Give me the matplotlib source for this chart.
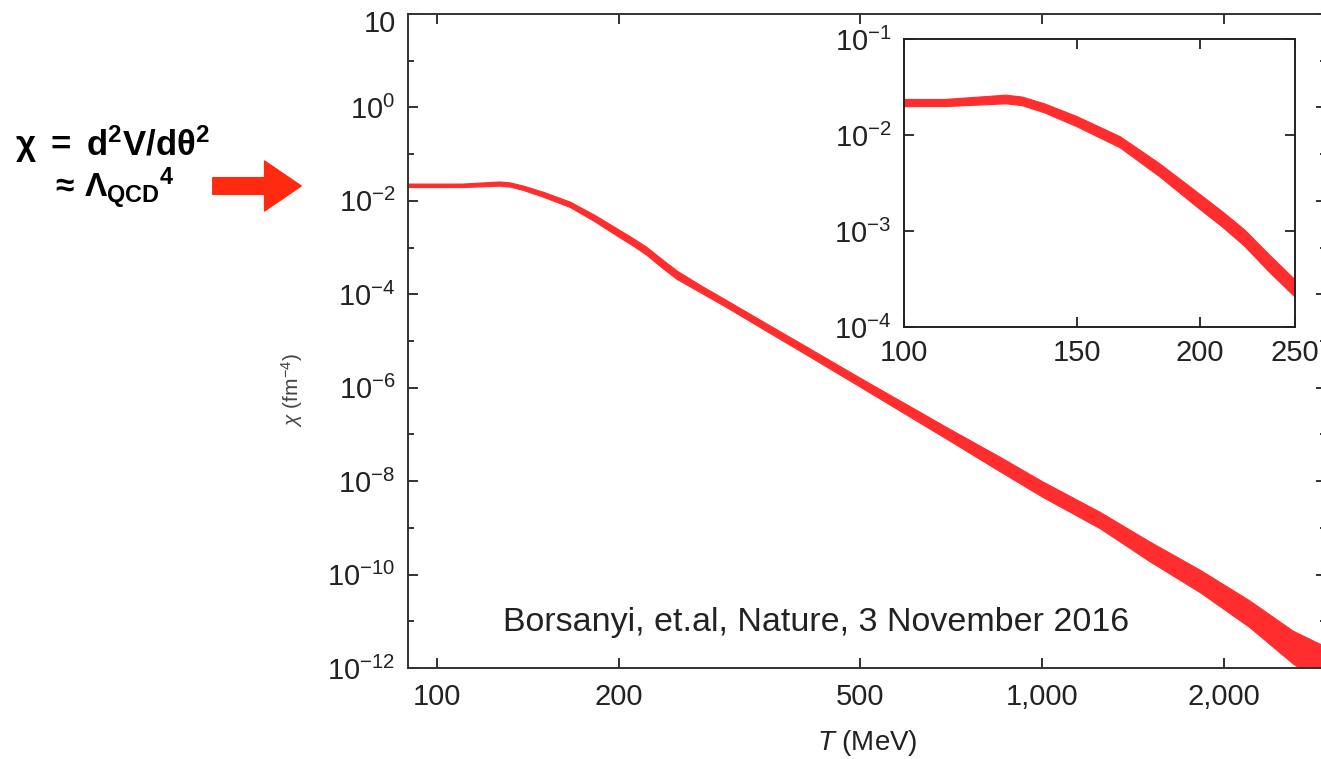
import matplotlib.pyplot as plt
import matplotlib.transforms as mtransforms
import numpy as np
from matplotlib.patches import FancyArrowPatch
from matplotlib.ticker import NullLocator

plt.rcParams['font.family'] = ['Liberation Sans', 'DejaVu Sans']
plt.rcParams['mathtext.fontset'] = 'custom'
plt.rcParams['mathtext.rm'] = 'Liberation Sans'
plt.rcParams['mathtext.it'] = 'Liberation Sans:italic'
plt.rcParams['mathtext.bf'] = 'Liberation Sans:bold'

# topological susceptibility band (log10 of chi in fm^-4)
T_mev = [88, 100, 110, 120, 127, 132, 139, 150, 166, 182, 200, 211, 222, 235, 249,
         272, 300, 351, 400, 500, 700, 852, 1000, 1247, 1500, 1825, 2200, 2596, 2950]
log_chi_hi = [-1.630, -1.630, -1.630, -1.603, -1.585, -1.605, -1.675, -1.808, -2.018,
              -2.297, -2.617, -2.80, -2.985, -3.24, -3.49, -3.797, -4.115, -4.63, -5.055,
              -5.785, -6.865, -7.48, -8.00, -8.66, -9.28, -9.90, -10.55, -11.20, -11.55]
log_chi_lo = [-1.704, -1.704, -1.704, -1.687, -1.675, -1.695, -1.769, -1.914, -2.134,
              -2.433, -2.773, -2.96, -3.155, -3.42, -3.67, -3.951, -4.265, -4.79, -5.225,
              -5.975, -7.115, -7.79, -8.33, -9.01, -9.70, -10.38, -11.12, -11.90, -12.40]

x_ticks = [100, 200, 500, 1000, 2000]
x_ticklabels = ['100', '200', '500', '1,000', '2,000']
y_exps = [2, 0, -2, -4, -6, -8, -10, -12]
y_ticklabels = ['10'] + [r'10$^{%d}$' % e for e in y_exps[1:]]
y_minor_exps = [1, -1, -3, -5, -7, -9, -11]

inset_x_ticks = [100, 150, 200, 250]
inset_y_exps = [-1, -2, -3, -4]

citation = 'Borsanyi, et.al, Nature, 3 November 2016'

band_color = '#ff2d2d'
ink = '#222222'

chi_hi = 10.0 ** np.array(log_chi_hi)
chi_lo = 10.0 ** np.array(log_chi_lo)

W, H = 1321, 759
fig = plt.figure(figsize=(W / 100, H / 100), dpi=100)


def box(l, t, r, b):
    return [l / W, 1 - b / H, (r - l) / W, (b - t) / H]


def px(x, y):
    return x / W, 1 - y / H


# main panel
ax = fig.add_axes(box(408, 14, 1326, 668))
ax.fill_between(T_mev, chi_lo, chi_hi, facecolor=band_color, edgecolor=band_color, lw=0.8)
ax.set_xscale('log')
ax.set_yscale('log')
ax.set_xlim(89.6, 2947)
ax.set_ylim(1e-12, 1e2)
ax.set_xticks(x_ticks)
ax.set_xticklabels(x_ticklabels)
ax.xaxis.set_minor_locator(NullLocator())
ax.set_yticks([10.0 ** e for e in y_exps])
ax.set_yticklabels(y_ticklabels)
ax.set_yticks([10.0 ** e for e in y_minor_exps], minor=True)
ax.yaxis.set_minor_formatter(plt.NullFormatter())
ax.tick_params(which='both', direction='in', top=True, right=True,
               labelsize=21, colors=ink, width=1.3)
ax.tick_params(which='major', length=7, pad=9)
ax.tick_params(which='minor', length=4.5)
ax.tick_params(axis='x', pad=11)
for s in ax.spines.values():
    s.set_color('#333333')
    s.set_linewidth(1.4)
ax.spines['right'].set_visible(False)
ax.set_xlabel(r'$T$ (MeV)', fontsize=20, color=ink, labelpad=12)
ax.set_ylabel(r'$\chi$ (fm$^{-4}$)', fontsize=15, color='#444444')
ax.yaxis.set_label_coords(-0.112, 0.425)
ax.text(0.444, 0.07, citation, transform=ax.transAxes, ha='center', va='center',
        fontsize=24.5, color=ink)

# top label sits a little lower in the original
top_label = ax.yaxis.get_major_ticks()[0].label1
top_label.set_transform(top_label.get_transform() +
                        mtransforms.ScaledTranslation(0, -0.07, fig.dpi_scale_trans))

# inset
axi = fig.add_axes(box(904, 39, 1295, 327))
axi.fill_between(T_mev, chi_lo, chi_hi, facecolor=band_color, edgecolor=band_color, lw=0.8)
axi.set_xscale('log')
axi.set_yscale('log')
axi.set_xlim(100, 250)
axi.set_ylim(1e-4, 1e-1)
axi.set_xticks(inset_x_ticks)
axi.set_xticklabels([str(t) for t in inset_x_ticks])
axi.xaxis.set_minor_locator(NullLocator())
axi.set_yticks([10.0 ** e for e in inset_y_exps])
axi.set_yticklabels([r'10$^{%d}$' % e for e in inset_y_exps])
axi.yaxis.set_minor_locator(NullLocator())
axi.tick_params(which='major', direction='in', top=True, right=True, length=7,
                width=1.3, labelsize=21, colors=ink, pad=9)
for s in axi.spines.values():
    s.set_color('#222222')
    s.set_linewidth(1.4)

# left annotation
fig.text(*px(15, 144), r'$\mathbf{χ\ =\ d^{2}V/dθ^{2}}$', fontsize=25, va='center', ha='left')
fig.text(*px(50, 188), r'$\mathbf{\approx\,{\Lambda_{QCD}}^{4}}$', fontsize=24,
         va='center', ha='left')
arrow = FancyArrowPatch(px(210, 186), px(304, 186), transform=fig.transFigure,
                        arrowstyle='simple,head_length=1.1,head_width=1.5,tail_width=0.5',
                        mutation_scale=24, color='#ff2a10')
fig.add_artist(arrow)

fig.savefig('out.png', dpi=100)
